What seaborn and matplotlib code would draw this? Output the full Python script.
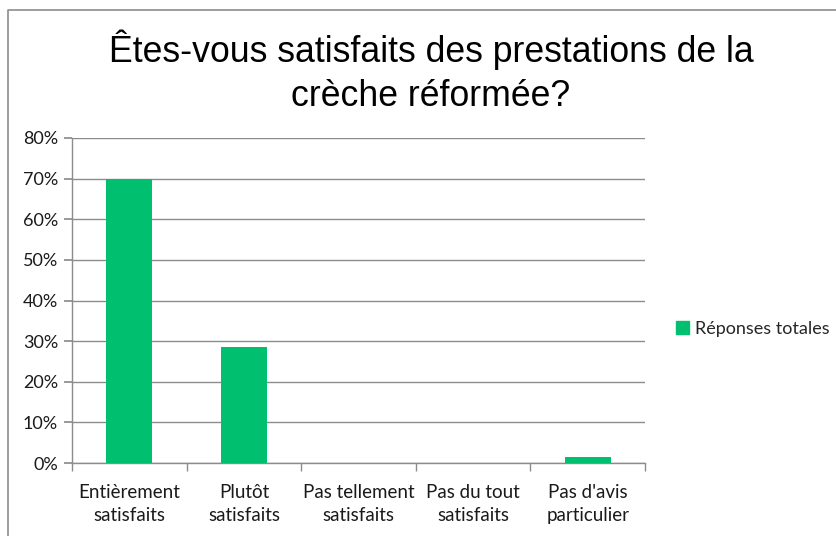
import matplotlib

matplotlib.use("Agg")

import matplotlib.pyplot as plt
import pandas as pd
import seaborn as sns
from matplotlib.lines import Line2D
from matplotlib.patches import Patch
from matplotlib.ticker import MultipleLocator, PercentFormatter

CATEGORIES = [
    "Entièrement\nsatisfaits",
    "Plutôt\nsatisfaits",
    "Pas tellement\nsatisfaits",
    "Pas du tout\nsatisfaits",
    "Pas d'avis\nparticulier",
]
VALUES = [70.0, 28.5, 0.0, 0.0, 1.5]
SERIES_NAME = "Réponses totales"
TITLE = "Êtes-vous satisfaits des prestations de la\ncrèche réformée?"

GREEN = "#00c070"
GRID = "#8c8c8c"
TEXT_FONT = ["Lato", "DejaVu Sans"]
TITLE_FONT = ["Liberation Sans Narrow", "Liberation Sans", "DejaVu Sans"]

df = pd.DataFrame({"category": CATEGORIES, "value": VALUES})

sns.set_theme(style="white")
plt.rcParams["font.family"] = TEXT_FONT

fig = plt.figure(figsize=(8.37, 5.36), dpi=100)
ax = fig.add_axes([72 / 837, 1 - 463 / 536, (645 - 72) / 837, (463 - 138) / 536])

sns.barplot(data=df, x="category", y="value", color=GREEN, width=0.4,
            saturation=1, linewidth=0, ax=ax, zorder=3)

ax.set_ylim(0, 80)
ax.set_xlim(-0.5, len(CATEGORIES) - 0.5)
ax.yaxis.set_major_locator(MultipleLocator(10))
ax.yaxis.set_major_formatter(PercentFormatter(decimals=0))
ax.grid(axis="y", color=GRID, linewidth=1, zorder=0)
ax.set_xlabel("")
ax.set_ylabel("")

for side in ["top", "right"]:
    ax.spines[side].set_visible(False)
for side in ["left", "bottom"]:
    ax.spines[side].set_color(GRID)
    ax.spines[side].set_linewidth(1)

ax.tick_params(axis="y", left=True, length=6, color=GRID, labelsize=13,
               labelcolor="#1a1a1a", pad=4)
ax.tick_params(axis="x", bottom=False, labelsize=13.5, labelcolor="#1a1a1a", pad=9)
for lbl in ax.get_xticklabels():
    lbl.set_linespacing(1.45)
# category boundary ticks
ax.set_xticks([i + 0.5 for i in range(-1, len(CATEGORIES))], minor=True)
ax.tick_params(axis="x", which="minor", bottom=True, length=6, color=GRID)

fig.suptitle(TITLE, x=431 / 837, y=1 - 30 / 536, fontsize=25.7, family=TITLE_FONT,
             color="black", linespacing=1.3)

ax.legend(handles=[Patch(color=GREEN, label=SERIES_NAME)],
          loc="center left", bbox_to_anchor=(676 / 837, 1 - 329 / 536),
          bbox_transform=fig.transFigure, frameon=False, fontsize=13,
          handlelength=0.7, handleheight=0.7, handletextpad=0.35,
          borderaxespad=0, borderpad=0)

# chart border
fig.add_artist(Line2D([8 / 837, 8 / 837, 1], [0, 1 - 10 / 536, 1 - 10 / 536],
                      transform=fig.transFigure, color="#8c8c8c", linewidth=1.2))

fig.savefig("out.png", dpi=100)
